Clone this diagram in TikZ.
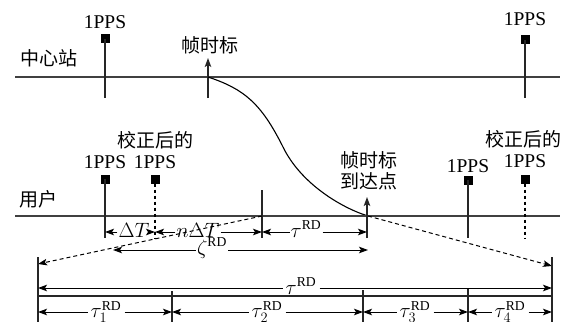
\documentclass[tikz,border=0pt]{standalone}
\usepackage{fontspec}
\setmainfont{Liberation Serif}
\newfontfamily\cjk{Noto Sans CJK SC}
\usetikzlibrary{arrows.meta}
\begin{document}
\begin{tikzpicture}[x=1pt,y=-1pt,
  every node/.style={font=\fontsize{19.5}{22}\selectfont, inner sep=1pt},
  cn/.style={font=\fontsize{19}{23}\selectfont\cjk, align=center},
  axis/.style={line width=1.3pt, draw=black!75},
  tick/.style={line width=1.2pt, draw=black!85},
  dtick/.style={line width=1.1pt, dash pattern=on 3.5pt off 2.5pt},
  pps/.style={fill=black, minimum size=9pt, inner sep=0pt},
  tip/.style={-{Stealth[length=9pt,width=6.5pt,inset=2pt]}},
  dim/.style={line width=1pt, tip},
  dline/.style={line width=1pt, dash pattern=on 4pt off 3pt, tip},
  curve/.style={line width=1.1pt},
]
\useasboundingbox (0,0) rectangle (577,321);

% ---------- central station ----------
\coordinate (tl) at (15,77);
\coordinate (tr) at (560,77);
\draw[axis] (tl) -- (tr);
\node[cn] (center) at (49,58) {中心站};

\coordinate (t1b) at (105,98);
\coordinate (t2b) at (525,98);
\node[pps] (sq1) at (105,39) {};
\node[pps] (sq2) at (525,40) {};
\draw[tick] (sq1.center) -- (t1b);
\draw[tick] (sq2.center) -- (t2b);
\node (l1) at (105,22) {1PPS};
\node (l2) at (525,19) {1PPS};

\coordinate (fb) at (208,98);
\coordinate (ft) at (208,58);
\draw[tick, tip] (fb) -- (ft);
\node[cn] (flab) at (210,45) {帧时标};

% ---------- curve ----------
\coordinate (c0) at (208,77);
\coordinate (cm) at (283,147);
\coordinate (c1) at (368,216);
\draw[curve] (c0) .. controls (244,89) and (261,103) .. (cm)
                  .. controls (301,184) and (342,208) .. (c1);

% ---------- user ----------
\coordinate (ul) at (15,216);
\coordinate (ur) at (560,216);
\draw[axis] (ul) -- (ur);
\node[cn] (user) at (38,199) {用户};

\coordinate (u1b) at (105,238);
\coordinate (u2b) at (155,238);
\coordinate (u4b) at (468,238);
\coordinate (u5b) at (525,238);
\node[pps] (usq1) at (105,179) {};
\node[pps] (usq2) at (155,179) {};
\node[pps] (usq4) at (468,180) {};
\node[pps] (usq5) at (525,179) {};
\draw[tick] (usq1.center) -- (u1b);
\draw[dtick] (usq2.south) -- (u2b);
\draw[tick] (usq4.center) -- (u4b);
\draw[dtick] (usq5.south) -- (u5b);

\coordinate (u3t) at (262,190);
\coordinate (u3b) at (262,238);
\draw[tick] (u3t) -- (u3b);
\coordinate (u3m) at (262,216);

\coordinate (arb) at (367,238);
\coordinate (art) at (367,197);
\draw[tick, tip] (arb) -- (art);

\node (ul1) at (105,162) {1PPS};
\node (ul2) at (155,162) {1PPS};
\node[cn] (uc1) at (155,140) {校正后的};
\node[cn] (arl) at (369,171) {帧时标\\[-2pt]到达点};
\node (ul4) at (468,166) {1PPS};
\node (ul5) at (525,161) {1PPS};
\node[cn] (uc2) at (523,139) {校正后的};

% ---------- first dimension row ----------
\coordinate (d1a) at (105,232);
\coordinate (d1b) at (155,232);
\coordinate (d1c) at (262,232);
\coordinate (d1d) at (367,232);
\node (dT) at (134,230) {$\Delta T$};
\node (ndT) at (198,230) {$n\Delta T$};
\node (tRD) at (306,229) {$\tau^{\mathrm{RD}}$};
\draw[dim] (dT.west|-d1a) -- (d1a);
\draw[dim] (dT.east|-d1a) -- (d1b);
\draw[dim] (ndT.west|-d1a) -- (d1b);
\draw[dim] (ndT.east|-d1a) -- (d1c);
\draw[dim] (tRD.west|-d1a) -- (d1c);
\draw[dim] (tRD.east|-d1a) -- (d1d);

% ---------- dashed projections ----------
\coordinate (pl) at (38,264);
\coordinate (pr) at (552,266);
\draw[dline] (u3m) -- (pl);
\draw[dline] (c1) -- (pr);

\coordinate (vlt) at (38,257);
\coordinate (vlb) at (38,325);
\coordinate (vrt) at (552,257);
\coordinate (vrb) at (552,325);
\draw[tick] (vlt) -- (vlb);
\draw[tick] (vrt) -- (vrb);

% zeta row
\coordinate (za) at (113,250);
\coordinate (zb) at (368,250);
\node (zeta) at (212,248) {$\zeta^{\mathrm{RD}}$};
\draw[dim] (zeta.west|-za) -- (za);
\draw[dim] (zeta.east|-za) -- (zb);

% total tau row
\coordinate (ta) at (38,288);
\coordinate (tb) at (552,288);
\node[inner sep=3pt] (tau) at (301,286) {$\tau^{\mathrm{RD}}$};
\draw[dim] (tau.west|-ta) -- (ta);
\draw[dim] (tau.east|-ta) -- (tb);

\coordinate (hl) at (38,296);
\coordinate (hr) at (552,296);
\draw[tick] (hl) -- (hr);

\coordinate (s1t) at (172,291);
\coordinate (s1b) at (172,325);
\coordinate (s2t) at (363,290);
\coordinate (s2b) at (363,325);
\coordinate (s3t) at (468,289);
\coordinate (s3b) at (468,325);
\draw[tick] (s1t) -- (s1b);
\draw[tick] (s2t) -- (s2b);
\draw[tick] (s3t) -- (s3b);

% bottom row
\coordinate (b0) at (38,312);
\coordinate (b1) at (172,312);
\coordinate (b2) at (363,312);
\coordinate (b3) at (468,312);
\coordinate (b4) at (552,312);
\node[inner sep=3pt] (tau1) at (106,312) {$\tau^{\mathrm{RD}}_{1}$};
\node[inner sep=3pt] (tau2) at (267,312) {$\tau^{\mathrm{RD}}_{2}$};
\node[inner sep=3pt] (tau3) at (415,312) {$\tau^{\mathrm{RD}}_{3}$};
\node[inner sep=3pt] (tau4) at (510,312) {$\tau^{\mathrm{RD}}_{4}$};
\draw[dim] (tau1.west|-b0) -- (b0);
\draw[dim] (tau1.east|-b0) -- (b1);
\draw[dim] (tau2.west|-b0) -- (b1);
\draw[dim] (tau2.east|-b0) -- (b2);
\draw[dim] (tau3.west|-b0) -- (b2);
\draw[dim] (tau3.east|-b0) -- (b3);
\draw[dim] (tau4.west|-b0) -- (b3);
\draw[dim] (tau4.east|-b0) -- (b4);
\end{tikzpicture}
\end{document}
